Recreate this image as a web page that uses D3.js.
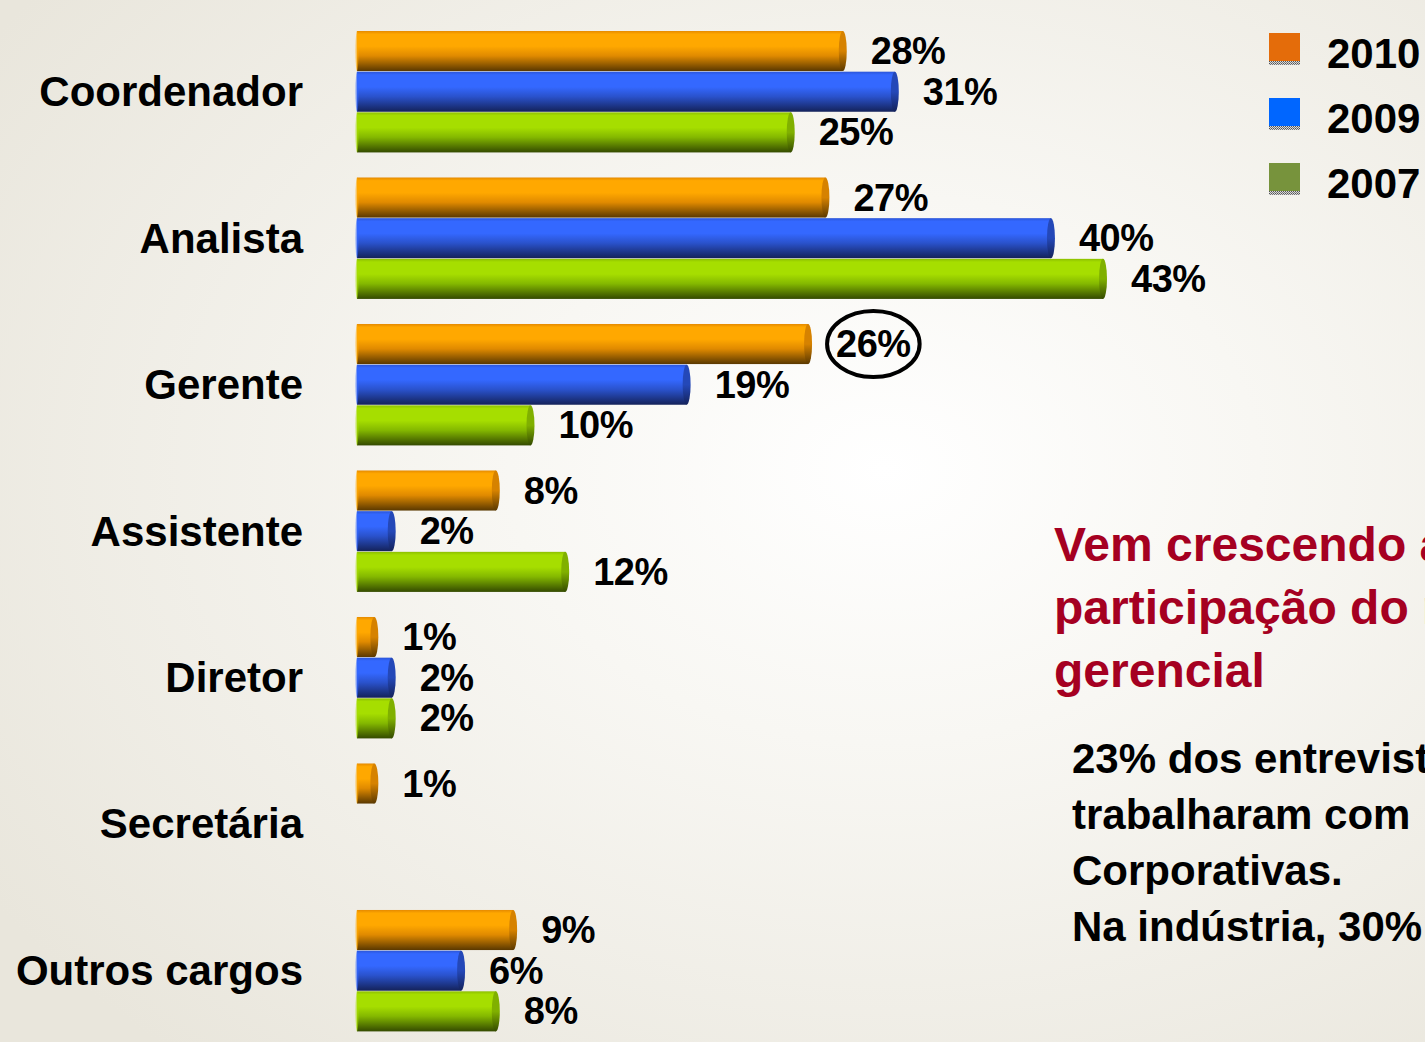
<!DOCTYPE html>
<html>
<head>
<meta charset="utf-8">
<script src="https://cdn.jsdelivr.net/npm/d3@7"></script>
<style>
  html, body { margin: 0; padding: 0; overflow: hidden; }
  svg { display: block; font-family: "Liberation Sans", Arial, sans-serif; }
</style>
</head>
<body>
<svg id="chart"></svg>
<script>
const width = 1425;
const height = 1042;

// dados
const cargos = ["Coordenador", "Analista", "Gerente", "Assistente", "Diretor", "Secretária", "Outros cargos"];
const anos = ["2010", "2009", "2007"];
const v2010 = [28, 27, 26, 8, 1, 1, 9];
const v2009 = [31, 40, 19, 2, 2, null, 6];
const v2007 = [25, 43, 10, 12, 2, null, 8];
const destaque = { cargo: "Gerente", ano: "2010" };

const titulo = ["Vem crescendo a", "participação do nível", "gerencial"];
const texto = ["23% dos entrevistados", "trabalharam com", "Corporativas.", "Na indústria, 30%"];

const series = { "2010": v2010, "2009": v2009, "2007": v2007 };

const barColors = {
  "2010": { top: "#e58a00", hi: "#ffa800", mid: "#e08a00", low: "#5a3800", cap: "#d68200" },
  "2009": { top: "#2b55d8", hi: "#3468ff", mid: "#2a52cc", low: "#14225a", cap: "#2448b8" },
  "2007": { top: "#8cbf00", hi: "#a6de00", mid: "#84b800", low: "#344a00", cap: "#80b000" }
};
const legendColors = { "2010": "#e46c0a", "2009": "#0066ff", "2007": "#77933c" };

const svg = d3.select("#chart")
  .attr("width", width)
  .attr("height", height);

const defs = svg.append("defs");

// fundo
const bg = defs.append("radialGradient")
  .attr("id", "bg")
  .attr("cx", "0.62").attr("cy", "0.45").attr("r", "0.75");
bg.append("stop").attr("offset", "0").attr("stop-color", "#ffffff");
bg.append("stop").attr("offset", "0.35").attr("stop-color", "#f8f7f3");
bg.append("stop").attr("offset", "1").attr("stop-color", "#e9e6dc");

svg.append("rect")
  .attr("width", width)
  .attr("height", height)
  .attr("fill", "url(#bg)");

anos.forEach(a => {
  const c = barColors[a];
  const g = defs.append("linearGradient")
    .attr("id", "bar" + a)
    .attr("x1", 0).attr("y1", 0).attr("x2", 0).attr("y2", 1);
  g.append("stop").attr("offset", "0").attr("stop-color", c.top);
  g.append("stop").attr("offset", "0.08").attr("stop-color", c.hi);
  g.append("stop").attr("offset", "0.38").attr("stop-color", c.hi);
  g.append("stop").attr("offset", "0.62").attr("stop-color", c.mid);
  g.append("stop").attr("offset", "1").attr("stop-color", c.low);

  const gc = defs.append("linearGradient")
    .attr("id", "cap" + a)
    .attr("x1", 0).attr("y1", 0).attr("x2", 0).attr("y2", 1);
  gc.append("stop").attr("offset", "0").attr("stop-color", c.cap);
  gc.append("stop").attr("offset", "0.5").attr("stop-color", c.cap);
  gc.append("stop").attr("offset", "1").attr("stop-color", c.low);
});

const checker = defs.append("pattern")
  .attr("id", "checker")
  .attr("width", 2).attr("height", 2)
  .attr("patternUnits", "userSpaceOnUse");
checker.append("rect").attr("width", 2).attr("height", 2).attr("fill", "#d8d8d8");
checker.append("rect").attr("width", 1).attr("height", 1).attr("fill", "#555");
checker.append("rect").attr("x", 1).attr("y", 1).attr("width", 1).attr("height", 1).attr("fill", "#777");

// escalas
const x = d3.scaleLinear()
  .domain([0, 43])
  .range([357, 1103]);

const y0 = d3.scaleBand()
  .domain(cargos)
  .range([31, 1032])
  .paddingInner(0.167)
  .paddingOuter(0)
  .align(0);

const y1 = d3.scaleBand()
  .domain(anos)
  .range([0, y0.bandwidth()]);

const rows = [];
cargos.forEach((cargo, i) => {
  anos.forEach(ano => {
    const v = series[ano][i];
    if (v !== null) rows.push({ cargo, ano, value: v });
  });
});

const bh = y1.bandwidth() - 0.6;
const capRx = 4;

const bars = svg.append("g").selectAll("g")
  .data(rows)
  .join("g")
  .attr("transform", d => `translate(0,${y0(d.cargo) + y1(d.ano)})`);

bars.append("rect")
  .attr("x", x(0))
  .attr("y", 0)
  .attr("width", d => x(d.value) - x(0))
  .attr("height", bh)
  .attr("fill", d => `url(#bar${d.ano})`);

// borda esquerda clara
bars.append("ellipse")
  .attr("cx", x(0))
  .attr("cy", bh / 2)
  .attr("rx", 1.5)
  .attr("ry", bh / 2)
  .attr("fill", d => barColors[d.ano].hi)
  .attr("opacity", 0.6);

// tampa do cilindro
bars.append("ellipse")
  .attr("cx", d => x(d.value))
  .attr("cy", bh / 2)
  .attr("rx", capRx)
  .attr("ry", bh / 2)
  .attr("fill", d => `url(#cap${d.ano})`);

// rótulos dos valores
const labels = bars.append("text")
  .attr("x", d => x(d.value) + capRx + 24)
  .attr("y", bh / 2 + 13)
  .attr("font-size", 38)
  .attr("font-weight", "bold")
  .attr("letter-spacing", -0.5)
  .attr("fill", "#000")
  .attr("stroke", "#fff")
  .attr("stroke-width", 0.6)
  .attr("paint-order", "stroke")
  .text(d => d.value + "%");

// círculo de destaque
labels.filter(d => d.cargo === destaque.cargo && d.ano === destaque.ano)
  .each(function(d) {
    const b = this.getBBox();
    d3.select(this.parentNode).append("ellipse")
      .attr("cx", b.x + b.width / 2)
      .attr("cy", b.y + b.height / 2)
      .attr("rx", b.width / 2 + 9)
      .attr("ry", b.height / 2 + 12)
      .attr("fill", "none")
      .attr("stroke", "#000")
      .attr("stroke-width", 4);
  });

// rótulos das categorias
svg.append("g").selectAll("text")
  .data(cargos)
  .join("text")
  .attr("x", 303)
  .attr("y", d => y0(d) + y0.bandwidth() / 2 + 14)
  .attr("text-anchor", "end")
  .attr("font-size", 42)
  .attr("font-weight", "bold")
  .attr("fill", "#000")
  .text(d => d);

// legenda
const legend = svg.append("g").selectAll("g")
  .data(anos)
  .join("g")
  .attr("transform", (d, i) => `translate(1269,${33 + i * 65})`);

legend.append("rect")
  .attr("width", 31).attr("height", 31)
  .attr("fill", d => legendColors[d]);
legend.append("rect")
  .attr("y", 28).attr("width", 31).attr("height", 4)
  .attr("fill", "url(#checker)");
legend.append("text")
  .attr("x", 58)
  .attr("y", 35)
  .attr("font-size", 42)
  .attr("font-weight", "bold")
  .attr("fill", "#000")
  .text(d => d);

// texto de comentário
svg.append("g").selectAll("text")
  .data(titulo)
  .join("text")
  .attr("x", 1054)
  .attr("y", (d, i) => 561 + i * 63)
  .attr("font-size", 48)
  .attr("font-weight", "bold")
  .attr("fill", "#a50021")
  .text(d => d);

svg.append("g").selectAll("text")
  .data(texto)
  .join("text")
  .attr("x", 1072)
  .attr("y", (d, i) => 773 + i * 56)
  .attr("font-size", 42)
  .attr("font-weight", "bold")
  .attr("fill", "#000")
  .text(d => d);
</script>
</body>
</html>
